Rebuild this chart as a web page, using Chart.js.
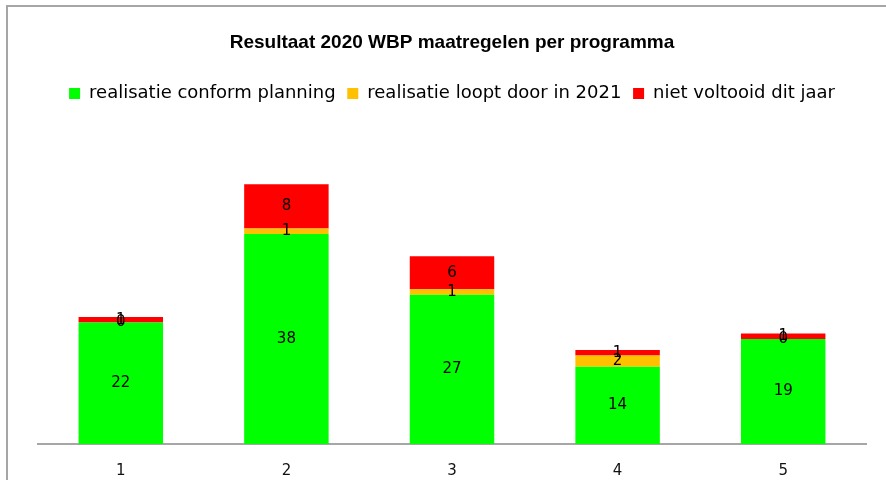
<!DOCTYPE html>
<html>
<head>
<meta charset="utf-8">
<script src="https://cdn.jsdelivr.net/npm/chart.js@4"></script>
<style>
  html, body { margin: 0; padding: 0; background: #fff; overflow: hidden; }
  #frame {
    position: absolute; left: 6px; top: 5px; width: 900px; height: 500px;
    border-left: 2px solid #a6a6a6; border-top: 2px solid #a6a6a6;
  }
  #wrap { position: absolute; left: 8px; top: 7px; width: 878px; height: 473px; }
</style>
</head>
<body>
<div id="frame"></div>
<div id="wrap"><canvas id="barChart"></canvas></div>
<script>
const labels = ['1', '2', '3', '4', '5'];

const conform = [22, 38, 27, 14, 19];
const looptDoor = [0, 1, 1, 2, 0];
const nietVoltooid = [1, 8, 6, 1, 1];

// waarden midden in elk segment tekenen (ook de nullen)
const valueLabels = {
  id: 'valueLabels',
  afterDatasetsDraw(chart) {
    const ctx = chart.ctx;
    ctx.save();
    ctx.font = '15px "DejaVu Sans", Verdana, sans-serif';
    ctx.fillStyle = '#000';
    ctx.textAlign = 'center';
    ctx.textBaseline = 'middle';
    chart.data.datasets.forEach((ds, i) => {
      chart.getDatasetMeta(i).data.forEach((bar, j) => {
        const p = bar.getCenterPoint();
        ctx.fillText(String(ds.data[j]), p.x, p.y);
      });
    });
    ctx.restore();
  }
};

const data = {
  labels: labels,
  datasets: [
    {
      label: 'realisatie conform planning',
      backgroundColor: '#00ff00',
      data: conform,
    },
    {
      label: 'realisatie loopt door in 2021',
      backgroundColor: '#ffc000',
      data: looptDoor,
    },
    {
      label: 'niet voltooid dit jaar',
      backgroundColor: '#ff0000',
      data: nietVoltooid,
    }
  ]
};

const config = {
  type: 'bar',
  data: data,
  plugins: [valueLabels],
  options: {
    responsive: true,
    maintainAspectRatio: false,
    animation: false,
    layout: { padding: { left: 30, right: 20, top: 0, bottom: 0 } },
    datasets: {
      bar: { barPercentage: 0.51, categoryPercentage: 1 }
    },
    plugins: {
      title: {
        display: true,
        text: 'Resultaat 2020 WBP maatregelen per programma',
        color: '#000',
        font: { family: '"Liberation Sans", Arial, sans-serif', size: 19, weight: 'bold' },
        padding: { top: 24.5, bottom: 18.5 }
      },
      legend: {
        position: 'top',
        labels: {
          color: '#000',
          font: { family: '"DejaVu Sans", Verdana, sans-serif', size: 18 },
          boxWidth: 11,
          boxHeight: 11,
          padding: 11.7
        }
      },
      tooltip: { enabled: false }
    },
    scales: {
      x: {
        stacked: true,
        grid: { display: false },
        border: { display: true, color: '#a6a6a6', width: 2 },
        ticks: {
          color: '#111',
          padding: 10,
          font: { family: '"DejaVu Sans", Verdana, sans-serif', size: 15 }
        },
        afterFit(scale) { scale.height = 36; }
      },
      y: {
        stacked: true,
        display: false,
        min: 0,
        max: 60
      }
    }
  }
};

const myChart = new Chart(document.getElementById('barChart'), config);
</script>
</body>
</html>
